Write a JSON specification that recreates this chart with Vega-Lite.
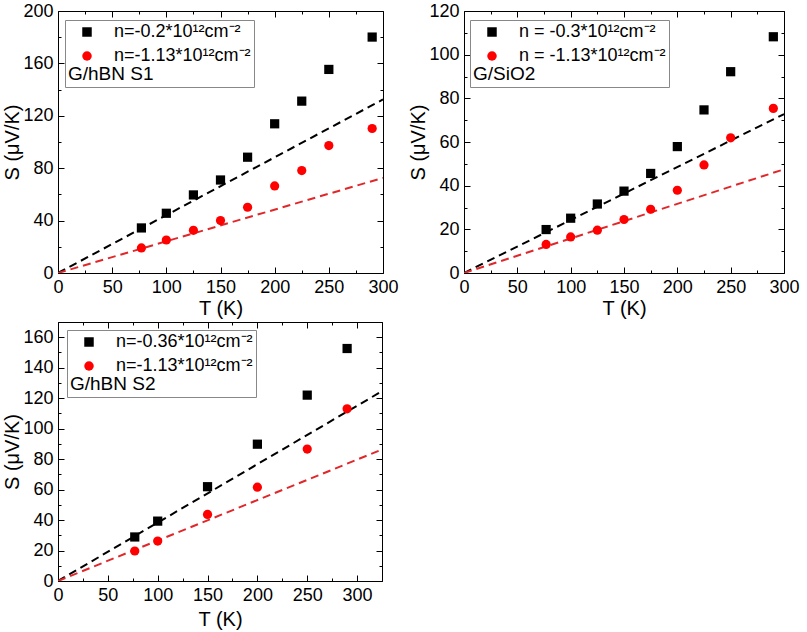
{
  "$schema": "https://vega.github.io/schema/vega-lite/v6.json",
  "background": "white",
  "padding": {"left": 2, "top": 1, "right": 2, "bottom": 2},
  "config": {
    "view": {"stroke": "black", "strokeWidth": 1},
    "axis": {"grid": false, "domain": false, "zindex": 1, "ticks": true, "minExtent": 0, "labelFont": "Liberation Sans", "labelFontSize": 18, "labelColor": "black", "labelFlush": false, "labelOverlap": false, "titleFont": "Liberation Sans", "titleFontSize": 20, "titleFontWeight": "normal", "titleColor": "black", "tickColor": "black", "tickWidth": 1},
    "legend": {"zindex": 2, "titleOrient": "bottom", "titleAnchor": "start", "titleFont": "Liberation Sans", "titleFontSize": 19, "titleFontWeight": "normal", "titleColor": "black", "labelFont": "Liberation Sans", "labelFontSize": 18, "labelColor": "black", "labelOffset": 18, "symbolOffset": 10, "symbolSize": 90, "symbolStrokeWidth": 0, "padding": 3, "rowPadding": 6, "titlePadding": 0, "strokeColor": "#888888", "fillColor": "white", "labelLimit": 400}
  },
  "datasets": {
    "p1pts": [
      {"T": 77, "S": 34.4, "series": "n=-0.2*10¹²cm⁻²"},
      {"T": 100, "S": 45.6, "series": "n=-0.2*10¹²cm⁻²"},
      {"T": 125, "S": 59.6, "series": "n=-0.2*10¹²cm⁻²"},
      {"T": 150, "S": 71, "series": "n=-0.2*10¹²cm⁻²"},
      {"T": 175, "S": 88.4, "series": "n=-0.2*10¹²cm⁻²"},
      {"T": 200, "S": 113.9, "series": "n=-0.2*10¹²cm⁻²"},
      {"T": 225, "S": 131.2, "series": "n=-0.2*10¹²cm⁻²"},
      {"T": 250, "S": 155.4, "series": "n=-0.2*10¹²cm⁻²"},
      {"T": 290, "S": 180.1, "series": "n=-0.2*10¹²cm⁻²"},
      {"T": 77, "S": 19.1, "series": "n=-1.13*10¹²cm⁻²"},
      {"T": 100, "S": 25.2, "series": "n=-1.13*10¹²cm⁻²"},
      {"T": 125, "S": 32.6, "series": "n=-1.13*10¹²cm⁻²"},
      {"T": 150, "S": 40, "series": "n=-1.13*10¹²cm⁻²"},
      {"T": 175, "S": 50.2, "series": "n=-1.13*10¹²cm⁻²"},
      {"T": 200, "S": 66.5, "series": "n=-1.13*10¹²cm⁻²"},
      {"T": 225, "S": 78.2, "series": "n=-1.13*10¹²cm⁻²"},
      {"T": 250, "S": 97.3, "series": "n=-1.13*10¹²cm⁻²"},
      {"T": 290, "S": 110.3, "series": "n=-1.13*10¹²cm⁻²"}
    ],
    "p1fit": [
      {"T": 0, "S": 0, "series": "n=-0.2*10¹²cm⁻²"},
      {"T": 300, "S": 132.5, "series": "n=-0.2*10¹²cm⁻²"},
      {"T": 0, "S": 0, "series": "n=-1.13*10¹²cm⁻²"},
      {"T": 300, "S": 72.6, "series": "n=-1.13*10¹²cm⁻²"}
    ],
    "p2pts": [
      {"T": 77, "S": 19.9, "series": "n = -0.3*10¹²cm⁻²"},
      {"T": 100, "S": 25.1, "series": "n = -0.3*10¹²cm⁻²"},
      {"T": 125, "S": 31.6, "series": "n = -0.3*10¹²cm⁻²"},
      {"T": 150, "S": 37.5, "series": "n = -0.3*10¹²cm⁻²"},
      {"T": 175, "S": 45.6, "series": "n = -0.3*10¹²cm⁻²"},
      {"T": 200, "S": 57.9, "series": "n = -0.3*10¹²cm⁻²"},
      {"T": 225, "S": 74.7, "series": "n = -0.3*10¹²cm⁻²"},
      {"T": 250, "S": 92.2, "series": "n = -0.3*10¹²cm⁻²"},
      {"T": 290, "S": 108.2, "series": "n = -0.3*10¹²cm⁻²"},
      {"T": 77, "S": 13.1, "series": "n = -1.13*10¹²cm⁻²"},
      {"T": 100, "S": 16.5, "series": "n = -1.13*10¹²cm⁻²"},
      {"T": 125, "S": 19.6, "series": "n = -1.13*10¹²cm⁻²"},
      {"T": 150, "S": 24.5, "series": "n = -1.13*10¹²cm⁻²"},
      {"T": 175, "S": 29.2, "series": "n = -1.13*10¹²cm⁻²"},
      {"T": 200, "S": 37.9, "series": "n = -1.13*10¹²cm⁻²"},
      {"T": 225, "S": 49.5, "series": "n = -1.13*10¹²cm⁻²"},
      {"T": 250, "S": 61.9, "series": "n = -1.13*10¹²cm⁻²"},
      {"T": 290, "S": 75.4, "series": "n = -1.13*10¹²cm⁻²"}
    ],
    "p2fit": [
      {"T": 0, "S": 0, "series": "n = -0.3*10¹²cm⁻²"},
      {"T": 300, "S": 72.8, "series": "n = -0.3*10¹²cm⁻²"},
      {"T": 0, "S": 0, "series": "n = -1.13*10¹²cm⁻²"},
      {"T": 300, "S": 47.5, "series": "n = -1.13*10¹²cm⁻²"}
    ],
    "p3pts": [
      {"T": 77, "S": 28.9, "series": "n=-0.36*10¹²cm⁻²"},
      {"T": 100, "S": 39.3, "series": "n=-0.36*10¹²cm⁻²"},
      {"T": 150, "S": 61.9, "series": "n=-0.36*10¹²cm⁻²"},
      {"T": 200, "S": 89.8, "series": "n=-0.36*10¹²cm⁻²"},
      {"T": 250, "S": 122, "series": "n=-0.36*10¹²cm⁻²"},
      {"T": 290, "S": 152.6, "series": "n=-0.36*10¹²cm⁻²"},
      {"T": 77, "S": 19.7, "series": "n=-1.13*10¹²cm⁻²"},
      {"T": 100, "S": 26.2, "series": "n=-1.13*10¹²cm⁻²"},
      {"T": 150, "S": 43.7, "series": "n=-1.13*10¹²cm⁻²"},
      {"T": 200, "S": 61.6, "series": "n=-1.13*10¹²cm⁻²"},
      {"T": 250, "S": 86.6, "series": "n=-1.13*10¹²cm⁻²"},
      {"T": 290, "S": 113, "series": "n=-1.13*10¹²cm⁻²"}
    ],
    "p3fit": [
      {"T": 0, "S": 0, "series": "n=-0.36*10¹²cm⁻²"},
      {"T": 325, "S": 124.6, "series": "n=-0.36*10¹²cm⁻²"},
      {"T": 0, "S": 0, "series": "n=-1.13*10¹²cm⁻²"},
      {"T": 325, "S": 86.3, "series": "n=-1.13*10¹²cm⁻²"}
    ]
  },
  "columns": 2,
  "spacing": {"row": 2, "column": 9},
  "resolve": {"scale": {"color": "independent", "shape": "independent", "x": "independent", "y": "independent"}},
  "concat": [
    {
      "width": 325, "height": 262,
      "resolve": {"axis": {"x": "independent", "y": "independent"}},
      "layer": [
        {
          "data": {"name": "p1fit"},
          "mark": {"type": "line", "strokeDash": [8, 5], "strokeWidth": 2, "clip": true},
          "encoding": {
            "x": {"field": "T", "type": "quantitative", "scale": {"domain": [0, 300], "nice": false}, "axis": {"orient": "bottom", "values": [0, 50, 100, 150, 200, 250, 300], "tickSize": -6, "labelPadding": 11, "title": "T (K)", "titlePadding": 2}},
            "y": {"field": "S", "type": "quantitative", "scale": {"domain": [0, 200], "nice": false}, "axis": {"orient": "left", "values": [0, 40, 80, 120, 160, 200], "tickSize": -6, "labelPadding": 11, "title": "S (μV/K)", "titlePadding": 0}},
            "detail": {"field": "series", "type": "nominal"},
            "stroke": {"condition": {"test": "indexof(datum.series, '1.13') >= 0", "value": "#e0282b"}, "value": "black"}
          }
        },
        {
          "data": {"name": "p1pts"},
          "mark": {"type": "point", "opacity": 0},
          "encoding": {
            "x": {"field": "T", "type": "quantitative", "axis": {"orient": "bottom", "values": [25, 75, 125, 175, 225, 275], "tickSize": -3, "labels": false, "title": null}},
            "y": {"field": "S", "type": "quantitative", "axis": {"orient": "left", "values": [20, 60, 100, 140, 180], "tickSize": -3, "labels": false, "title": null}}
          }
        },
        {
          "data": {"name": "p1pts"},
          "mark": {"type": "point", "opacity": 0},
          "encoding": {
            "x": {"field": "T", "type": "quantitative", "axis": {"orient": "top", "values": [25, 75, 125, 175, 225, 275], "tickSize": -3, "labels": false, "title": null}},
            "y": {"field": "S", "type": "quantitative", "axis": {"orient": "right", "values": [20, 60, 100, 140, 180], "tickSize": -3, "labels": false, "title": null}}
          }
        },
        {
          "data": {"name": "p1pts"},
          "mark": {"type": "point", "filled": true, "opacity": 1, "size": 85},
          "encoding": {
            "x": {"field": "T", "type": "quantitative", "axis": {"orient": "top", "values": [0, 50, 100, 150, 200, 250, 300], "tickSize": -6, "labels": false, "title": null}},
            "y": {"field": "S", "type": "quantitative", "axis": {"orient": "right", "values": [0, 40, 80, 120, 160, 200], "tickSize": -6, "labels": false, "title": null}},
            "color": {"field": "series", "type": "nominal", "scale": {"domain": ["n=-0.2*10¹²cm⁻²", "n=-1.13*10¹²cm⁻²"], "range": ["black", "#ff0000"]}, "legend": {"orient": "none", "title": "\u00a0\u00a0\u00a0G/hBN S1", "legendX": 7, "legendY": 9}},
            "shape": {"field": "series", "type": "nominal", "scale": {"domain": ["n=-0.2*10¹²cm⁻²", "n=-1.13*10¹²cm⁻²"], "range": ["square", "circle"]}, "legend": {"orient": "none", "title": "\u00a0\u00a0\u00a0G/hBN S1", "legendX": 7, "legendY": 9}}
          }
        }
      ]
    },
    {
      "width": 320, "height": 262,
      "resolve": {"axis": {"x": "independent", "y": "independent"}},
      "layer": [
        {
          "data": {"name": "p2fit"},
          "mark": {"type": "line", "strokeDash": [8, 5], "strokeWidth": 2, "clip": true},
          "encoding": {
            "x": {"field": "T", "type": "quantitative", "scale": {"domain": [0, 300], "nice": false}, "axis": {"orient": "bottom", "values": [0, 50, 100, 150, 200, 250, 300], "tickSize": -6, "labelPadding": 11, "title": "T (K)", "titlePadding": 2}},
            "y": {"field": "S", "type": "quantitative", "scale": {"domain": [0, 120], "nice": false}, "axis": {"orient": "left", "values": [0, 20, 40, 60, 80, 100, 120], "tickSize": -6, "labelPadding": 11, "title": "S (μV/K)", "titlePadding": 0}},
            "detail": {"field": "series", "type": "nominal"},
            "stroke": {"condition": {"test": "indexof(datum.series, '1.13') >= 0", "value": "#e0282b"}, "value": "black"}
          }
        },
        {
          "data": {"name": "p2pts"},
          "mark": {"type": "point", "opacity": 0},
          "encoding": {
            "x": {"field": "T", "type": "quantitative", "axis": {"orient": "bottom", "values": [25, 75, 125, 175, 225, 275], "tickSize": -3, "labels": false, "title": null}},
            "y": {"field": "S", "type": "quantitative", "axis": {"orient": "left", "values": [10, 30, 50, 70, 90, 110], "tickSize": -3, "labels": false, "title": null}}
          }
        },
        {
          "data": {"name": "p2pts"},
          "mark": {"type": "point", "opacity": 0},
          "encoding": {
            "x": {"field": "T", "type": "quantitative", "axis": {"orient": "top", "values": [25, 75, 125, 175, 225, 275], "tickSize": -3, "labels": false, "title": null}},
            "y": {"field": "S", "type": "quantitative", "axis": {"orient": "right", "values": [10, 30, 50, 70, 90, 110], "tickSize": -3, "labels": false, "title": null}}
          }
        },
        {
          "data": {"name": "p2pts"},
          "mark": {"type": "point", "filled": true, "opacity": 1, "size": 85},
          "encoding": {
            "x": {"field": "T", "type": "quantitative", "axis": {"orient": "top", "values": [0, 50, 100, 150, 200, 250, 300], "tickSize": -6, "labels": false, "title": null}},
            "y": {"field": "S", "type": "quantitative", "axis": {"orient": "right", "values": [0, 20, 40, 60, 80, 100, 120], "tickSize": -6, "labels": false, "title": null}},
            "color": {"field": "series", "type": "nominal", "scale": {"domain": ["n = -0.3*10¹²cm⁻²", "n = -1.13*10¹²cm⁻²"], "range": ["black", "#ff0000"]}, "legend": {"orient": "none", "title": "\u00a0\u00a0\u00a0\u00a0G/SiO2", "legendX": 6, "legendY": 9}},
            "shape": {"field": "series", "type": "nominal", "scale": {"domain": ["n = -0.3*10¹²cm⁻²", "n = -1.13*10¹²cm⁻²"], "range": ["square", "circle"]}, "legend": {"orient": "none", "title": "\u00a0\u00a0\u00a0\u00a0G/SiO2", "legendX": 6, "legendY": 9}}
          }
        }
      ]
    },
    {
      "width": 324, "height": 259,
      "resolve": {"axis": {"x": "independent", "y": "independent"}},
      "layer": [
        {
          "data": {"name": "p3fit"},
          "mark": {"type": "line", "strokeDash": [8, 5], "strokeWidth": 2, "clip": true},
          "encoding": {
            "x": {"field": "T", "type": "quantitative", "scale": {"domain": [0, 325], "nice": false}, "axis": {"orient": "bottom", "values": [0, 50, 100, 150, 200, 250, 300], "tickSize": -6, "labelPadding": 11, "title": "T (K)", "titlePadding": 5}},
            "y": {"field": "S", "type": "quantitative", "scale": {"domain": [0, 170], "nice": false}, "axis": {"orient": "left", "values": [0, 20, 40, 60, 80, 100, 120, 140, 160], "tickSize": -6, "labelPadding": 11, "title": "S (μV/K)", "titlePadding": 0}},
            "detail": {"field": "series", "type": "nominal"},
            "stroke": {"condition": {"test": "indexof(datum.series, '1.13') >= 0", "value": "#e0282b"}, "value": "black"}
          }
        },
        {
          "data": {"name": "p3pts"},
          "mark": {"type": "point", "opacity": 0},
          "encoding": {
            "x": {"field": "T", "type": "quantitative", "axis": {"orient": "bottom", "values": [25, 75, 125, 175, 225, 275, 325], "tickSize": -3, "labels": false, "title": null}},
            "y": {"field": "S", "type": "quantitative", "axis": {"orient": "left", "values": [10, 30, 50, 70, 90, 110, 130, 150, 170], "tickSize": -3, "labels": false, "title": null}}
          }
        },
        {
          "data": {"name": "p3pts"},
          "mark": {"type": "point", "opacity": 0},
          "encoding": {
            "x": {"field": "T", "type": "quantitative", "axis": {"orient": "top", "values": [25, 75, 125, 175, 225, 275, 325], "tickSize": -3, "labels": false, "title": null}},
            "y": {"field": "S", "type": "quantitative", "axis": {"orient": "right", "values": [10, 30, 50, 70, 90, 110, 130, 150, 170], "tickSize": -3, "labels": false, "title": null}}
          }
        },
        {
          "data": {"name": "p3pts"},
          "mark": {"type": "point", "filled": true, "opacity": 1, "size": 85},
          "encoding": {
            "x": {"field": "T", "type": "quantitative", "axis": {"orient": "top", "values": [0, 50, 100, 150, 200, 250, 300], "tickSize": -6, "labels": false, "title": null}},
            "y": {"field": "S", "type": "quantitative", "axis": {"orient": "right", "values": [0, 20, 40, 60, 80, 100, 120, 140, 160], "tickSize": -6, "labels": false, "title": null}},
            "color": {"field": "series", "type": "nominal", "scale": {"domain": ["n=-0.36*10¹²cm⁻²", "n=-1.13*10¹²cm⁻²"], "range": ["black", "#ff0000"]}, "legend": {"orient": "none", "title": "\u00a0\u00a0\u00a0\u00a0G/hBN S2", "legendX": 9, "legendY": 8}},
            "shape": {"field": "series", "type": "nominal", "scale": {"domain": ["n=-0.36*10¹²cm⁻²", "n=-1.13*10¹²cm⁻²"], "range": ["square", "circle"]}, "legend": {"orient": "none", "title": "\u00a0\u00a0\u00a0\u00a0G/hBN S2", "legendX": 9, "legendY": 8}}
          }
        }
      ]
    }
  ]
}
